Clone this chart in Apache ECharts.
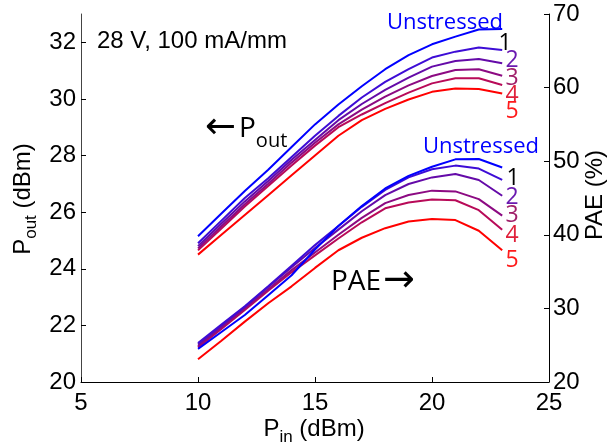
<!DOCTYPE html>
<html><head><meta charset="utf-8">
<script src="https://cdn.jsdelivr.net/npm/echarts@6/dist/echarts.min.js"></script>
<style>html,body{margin:0;padding:0;background:#fff}#c{width:607px;height:445px}</style>
</head><body><div id="c"></div>
<script>
// ---- data ----
const pin = [10, 11, 12, 13, 14, 15, 16, 17, 18, 19, 20, 21, 22, 23];
const poutUnstressed = [25.15, 25.95, 26.75, 27.5, 28.3, 29.1, 29.8, 30.45, 31.05, 31.55, 31.93, 32.2, 32.45, 32.47];
const pout1 = [24.9, 25.7, 26.5, 27.2, 27.95, 28.7, 29.4, 30.05, 30.6, 31.05, 31.46, 31.67, 31.82, 31.73];
const pout2 = [24.8, 25.6, 26.38, 27.1, 27.85, 28.55, 29.25, 29.82, 30.32, 30.75, 31.14, 31.34, 31.41, 31.26];
const pout3 = [24.72, 25.5, 26.28, 27.0, 27.75, 28.45, 29.1, 29.62, 30.08, 30.48, 30.81, 31.02, 31.05, 30.82];
const pout4 = [24.65, 25.42, 26.2, 26.92, 27.65, 28.35, 29.0, 29.45, 29.85, 30.22, 30.55, 30.73, 30.73, 30.49];
const pout5 = [24.5, 25.2, 25.9, 26.6, 27.3, 28.0, 28.7, 29.25, 29.65, 29.98, 30.25, 30.37, 30.35, 30.19];
const paeUnstressed = [24.5, 26.8, 29.1, 31.8, 34.5, 38.0, 41.2, 43.9, 46.3, 48.0, 49.25, 50.25, 50.3, 49.15];
const pae1 = [25.3, 27.8, 30.3, 33.0, 35.8, 38.6, 41.2, 43.8, 46.1, 47.8, 48.9, 49.4, 49.0, 47.45];
const pae2 = [25.1, 27.6, 30.2, 32.9, 35.6, 38.2, 40.7, 43.2, 45.4, 46.9, 47.8, 48.25, 47.45, 45.3];
const pae3 = [24.9, 27.4, 30.0, 32.6, 35.2, 37.6, 40.0, 42.3, 44.3, 45.4, 46.0, 45.9, 44.85, 42.6];
const pae4 = [24.7, 27.2, 29.8, 32.4, 34.9, 37.2, 39.5, 41.7, 43.6, 44.4, 44.8, 44.7, 43.35, 40.7];
const pae5 = [23.1, 25.6, 28.2, 30.7, 33.0, 35.5, 37.9, 39.6, 40.9, 41.8, 42.15, 42.0, 40.55, 37.9];
const seriesNames = ['Unstressed', '1', '2', '3', '4', '5'];
const poutSets = [poutUnstressed, pout1, pout2, pout3, pout4, pout5];
const paeSets = [paeUnstressed, pae1, pae2, pae3, pae4, pae5];
const leftTicks = [20, 22, 24, 26, 28, 30, 32];
const rightTicks = [20, 30, 40, 50, 60, 70];
const xTicks = [5, 10, 15, 20, 25];

// ---- style ----
const lineColors = ['#0000ff', '#3d0cd6', '#640aa8', '#8c0a82', '#b80a58', '#ff0000'];
const labelColors = ['#0000ff', '#000000', '#6a1ab0', '#a0206a', '#e0203a', '#ff1a1a'];
const ARIAL = '"Liberation Sans", Arial, Helvetica, sans-serif';
const CAL = '"Open Sans", "Noto Sans", sans-serif';
const ARROW = '"DejaVu Sans", sans-serif';

const mctx = document.createElement('canvas').getContext('2d');
function tw(t, f) { mctx.font = f; return mctx.measureText(t).width; }
function txt(text, x, y, font, fill, align) {
  return { type: 'text', x: x, y: y, silent: true,
    style: { text: text, font: font, fill: fill || '#000',
      align: align || 'left', verticalAlign: 'middle',
      textAlign: align || 'left', textVerticalAlign: 'middle' } };
}
// parts: [text, size, family, baselineShift, k]
function runText(parts, x0, base) {
  let x = x0; const out = [];
  parts.forEach(p => {
    const f = p[1] + 'px ' + p[2];
    out.push(txt(p[0], x, base + p[3] - p[4] * p[1], f, '#000'));
    x += tw(p[0], f);
  });
  return { children: out, width: x - x0 };
}
function runWidth(parts) { return parts.reduce((s, p) => s + tw(p[0], p[1] + 'px ' + p[2]), 0); }

const KA = 0.31;
const leftTitle = [['P', 24, ARIAL, 0, KA], ['out', 17, ARIAL, 6, KA], [' (dBm)', 24, ARIAL, 0, KA]];
const bottomTitle = [['P', 24, ARIAL, 0, KA], ['in', 17, ARIAL, 6, KA], [' (dBm)', 24, ARIAL, 0, KA]];
const rightTitle = [['PAE (%)', 24, ARIAL, 0, KA]];

const lw = runWidth(leftTitle), bw = runWidth(bottomTitle), rw = runWidth(rightTitle);

const graphics = [
  { type: 'group', x: 31, y: 199 + lw / 2, rotation: Math.PI / 2, children: runText(leftTitle, 0, 0).children },
  { type: 'group', x: 314 - bw / 2, y: 437, children: runText(bottomTitle, 0, 0).children },
  { type: 'group', x: 603, y: 195 + rw / 2, rotation: Math.PI / 2, children: runText(rightTitle, 0, 0).children },
  txt('28 V, 100 mA/mm', 97, 41.7, '24px ' + ARIAL, '#000'),
  txt('Unstressed', 387, 23, '22px ' + CAL, labelColors[0]),
  txt('Unstressed', 423, 147, '22px ' + CAL, labelColors[0]),
];
const topDigits = [[505, 41.5], [512, 58.5], [512, 76.5], [512, 93.5], [512, 110]];
const botDigits = [[513, 177], [512, 196], [512, 213.5], [512, 233.5], [512, 259]];
for (let i = 0; i < 5; i++) {
  graphics.push(txt(seriesNames[i + 1], topDigits[i][0], topDigits[i][1] + 1.5, '23px ' + CAL, labelColors[i + 1], 'center'));
  graphics.push(txt(seriesNames[i + 1], botDigits[i][0], botDigits[i][1] + 1.5, '23px ' + CAL, labelColors[i + 1], 'center'));
}
// ←Pout
graphics.push(txt('\u2190', 205, 128, '37px ' + ARROW, '#000'));
graphics.push(txt('P', 239, 129, '28px ' + CAL, '#000'));
graphics.push(txt('out', 239 + tw('P', '28px ' + CAL), 141.3, '20px ' + CAL, '#000'));
// PAE→
const paeW = tw('PAE', '28px ' + CAL);
graphics.push(txt('PAE', 331, 282, '28px ' + CAL, '#000'));
graphics.push(txt('\u2192', 331 + paeW + 2, 281, '38px ' + ARROW, '#000'));

const series = [];
for (let i = 0; i < 6; i++) {
  series.push({ name: seriesNames[i] + ' Pout', type: 'line', yAxisIndex: 0, symbol: 'none',
    lineStyle: { color: lineColors[i], width: 2 }, itemStyle: { color: lineColors[i] },
    data: pin.map((x, j) => [x, poutSets[i][j]]), z: 10 - i });
  series.push({ name: seriesNames[i] + ' PAE', type: 'line', yAxisIndex: 1, symbol: 'none',
    lineStyle: { color: lineColors[i], width: 2 }, itemStyle: { color: lineColors[i] },
    data: pin.map((x, j) => [x, paeSets[i][j]]), z: 10 - i });
}

const labelStyle = { fontSize: 24, fontFamily: ARIAL, color: '#000' };
const chart = echarts.init(document.getElementById('c'), null, { renderer: 'canvas' });
chart.setOption({
  animation: false,
  backgroundColor: '#fff',
  grid: { left: 81, right: 58, top: 14, bottom: 63, containLabel: false },
  xAxis: { type: 'value', min: 5, max: 25, interval: 5,
    axisLine: { show: true, lineStyle: { color: '#000', width: 1 } },
    axisTick: { show: true, inside: true, length: 5, lineStyle: { color: '#000' }, customValues: xTicks },
    axisLabel: Object.assign({ margin: 9, customValues: xTicks, showMinLabel: true, showMaxLabel: true }, labelStyle),
    splitLine: { show: false } },
  yAxis: [
    { type: 'value', position: 'left', min: 20, max: 33, interval: 2,
      axisLine: { show: true, lineStyle: { color: '#444', width: 1 } },
      axisTick: { show: true, inside: true, length: 5, lineStyle: { color: '#000' }, customValues: leftTicks },
      axisLabel: Object.assign({ margin: 5, customValues: leftTicks }, labelStyle),
      splitLine: { show: false } },
    { type: 'value', position: 'right', min: 20, max: 70, interval: 10,
      axisLine: { show: true, lineStyle: { color: '#000', width: 1 } },
      axisTick: { show: true, inside: true, length: 5, lineStyle: { color: '#000' }, customValues: rightTicks },
      axisLabel: Object.assign({ margin: 4, customValues: rightTicks }, labelStyle),
      splitLine: { show: false } }
  ],
  series: series,
  graphic: graphics
});
</script></body></html>
